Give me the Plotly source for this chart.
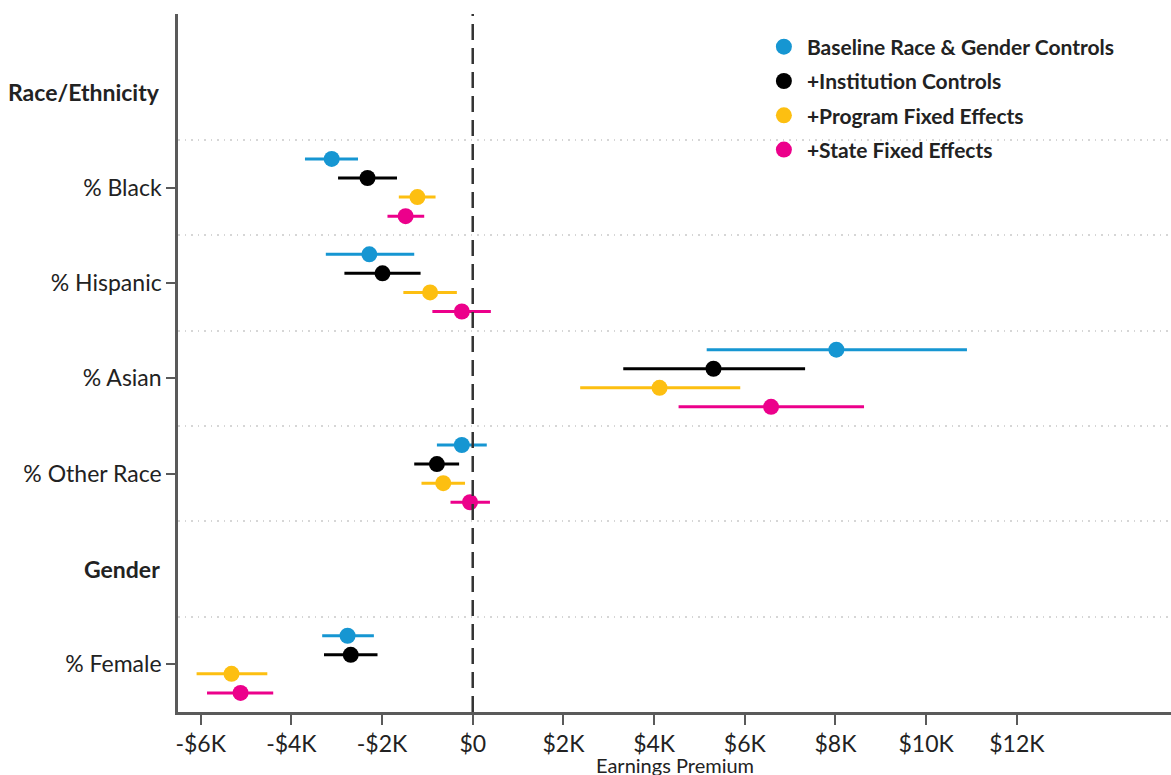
import plotly.graph_objects as go

# Rows, top to bottom; header rows have no estimates
rows = ["Race/Ethnicity", "% Black", "% Hispanic", "% Asian", "% Other Race", "Gender", "% Female"]
headers = ["Race/Ethnicity", "Gender"]
groups = ["% Black", "% Hispanic", "% Asian", "% Other Race", "% Female"]

series = ["Baseline Race & Gender Controls", "+Institution Controls",
          "+Program Fixed Effects", "+State Fixed Effects"]
colors = ["#1696d2", "#000000", "#fdbf11", "#ec008b"]

# Point estimates and 95% interval bounds (dollars), ordered as `groups`
baseline_est = [-3110, -2280, 8020, -240, -2760]
baseline_lo = [-3700, -3240, 5160, -790, -3320]
baseline_hi = [-2530, -1290, 10900, 310, -2180]

institution_est = [-2320, -1990, 5310, -790, -2690]
institution_lo = [-2970, -2830, 3320, -1290, -3280]
institution_hi = [-1670, -1150, 7330, -300, -2100]

program_est = [-1220, -940, 4120, -650, -5320]
program_lo = [-1630, -1530, 2370, -1130, -6090]
program_hi = [-820, -350, 5900, -170, -4530]

state_est = [-1480, -240, 6580, -60, -5120]
state_lo = [-1880, -890, 4540, -490, -5860]
state_hi = [-1070, 400, 8630, 380, -4400]

x_ticks = [-6000, -4000, -2000, 0, 2000, 4000, 6000, 8000, 10000, 12000]
x_tick_text = ["-$6K", "-$4K", "-$2K", "$0", "$2K", "$4K", "$6K", "$8K", "$10K", "$12K"]
x_title = "Earnings Premium"

estimates = [baseline_est, institution_est, program_est, state_est]
lowers = [baseline_lo, institution_lo, program_lo, state_lo]
uppers = [baseline_hi, institution_hi, program_hi, state_hi]
offsets = [0.3, 0.1, -0.1, -0.3]

n = len(rows)
row_pos = {name: n - 1 - i for i, name in enumerate(rows)}

FONT = "Lato"
AXIS_COLOR = "#5a5a5a"
TEXT_COLOR = "#222222"
LABEL_SIZE = 23

fig = go.Figure()

for name, col, est, lo, hi, off in zip(series, colors, estimates, lowers, uppers, offsets):
    ys = [row_pos[g] + off for g in groups]
    fig.add_trace(go.Scatter(
        x=est, y=ys, mode="markers", name=name, legendgroup=name,
        marker=dict(color=col, size=16, line=dict(width=0)),
        error_x=dict(type="data", symmetric=False,
                     array=[h - e for h, e in zip(hi, est)],
                     arrayminus=[e - l for e, l in zip(est, lo)],
                     color=col, thickness=3, width=0),
    ))

# Zero reference line
fig.add_shape(type="line", xref="x", yref="paper", x0=0, x1=0, y0=0, y1=1,
              line=dict(color="#333333", width=2.5, dash="16px,8px"), layer="above")

# Section headers on the category axis
for h in headers:
    fig.add_annotation(text=f"<b>{h}</b>", xref="paper", yref="y", x=0, y=row_pos[h],
                       xanchor="right", yanchor="middle", xshift=-16, showarrow=False,
                       font=dict(family=FONT, size=LABEL_SIZE, color=TEXT_COLOR))

# Horizontal axis title, tucked just under the tick labels
fig.add_annotation(text=x_title, xref="paper", yref="paper", x=0.5, y=0,
                   xanchor="center", yanchor="top", yshift=-40, showarrow=False,
                   borderpad=0,
                   font=dict(family=FONT, size=20, color=TEXT_COLOR))

fig.update_layout(
    width=1171, height=775,
    margin=dict(l=178, r=0, t=14, b=63),
    plot_bgcolor="white", paper_bgcolor="white",
    font=dict(family=FONT, size=LABEL_SIZE, color=TEXT_COLOR),
    showlegend=True,
    legend=dict(x=0.587, y=0.982, xanchor="left", yanchor="top",
                bgcolor="rgba(255,255,255,0)", traceorder="grouped", tracegroupgap=4,
                itemwidth=36,
                font=dict(family=FONT, size=21, color=TEXT_COLOR, weight="bold")),
    xaxis=dict(range=[-6500, 15400], tickvals=x_ticks, ticktext=x_tick_text,
               showgrid=False, zeroline=False, automargin=False,
               showline=True, linecolor=AXIS_COLOR, linewidth=2.5,
               ticks="outside", ticklen=10, tickwidth=2, tickcolor=AXIS_COLOR,
               tickfont=dict(family=FONT, size=LABEL_SIZE, color=TEXT_COLOR)),
    yaxis=dict(range=[-0.5, 6.82],
               tickvals=[row_pos[g] for g in groups], ticktext=groups,
               showgrid=False, zeroline=False,
               showline=True, linecolor=AXIS_COLOR, linewidth=2.5,
               ticks="outside", ticklen=9, tickwidth=2, tickcolor=AXIS_COLOR,
               tickfont=dict(family=FONT, size=LABEL_SIZE, color=TEXT_COLOR),
               minor=dict(tickvals=[k + 0.5 for k in range(n - 1)], showgrid=True,
                          gridcolor="#d6d6d6", griddash="1.5px,5px", gridwidth=1.5, ticks="")),
)

fig.write_html("out.html")
